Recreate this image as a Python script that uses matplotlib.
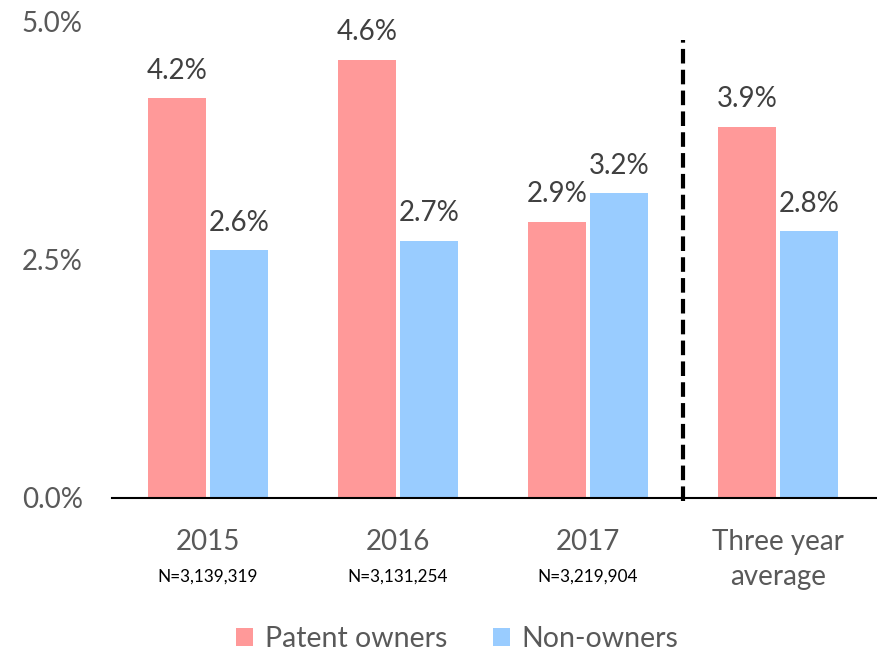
import numpy as np
import matplotlib.pyplot as plt

categories = ['2015', '2016', '2017', 'Three year\naverage']
n_labels = ['N=3,139,319', 'N=3,131,254', 'N=3,219,904', '']
patent_owners = [4.2, 4.6, 2.9, 3.9]
non_owners = [2.6, 2.7, 3.2, 2.8]

plt.rcParams['font.family'] = ['Lato', 'DejaVu Sans']

fig = plt.figure(figsize=(8.78, 6.55), dpi=100)
# axes in pixel terms: left 112, right 878, bottom 498, top 22
ax = fig.add_axes([112 / 878, 1 - 498 / 655, 766 / 878, 476 / 655])

x = np.arange(len(categories))
w = 58 / 190
gap = 4 / 190
off = w / 2 + gap / 2

b1 = ax.bar(x - off, patent_owners, w, color='#FF9999', label='Patent owners')
b2 = ax.bar(x + off, non_owners, w, color='#99CCFF', label='Non-owners')

for bars, vals in [(b1, patent_owners), (b2, non_owners)]:
    for b, v in zip(bars, vals):
        ax.annotate(f'{v:.1f}%', (b.get_x() + b.get_width() / 2, v),
                    xytext=(0, 10.5), textcoords='offset points',
                    ha='center', va='bottom', fontsize=20, color='#404040')

ax.set_xlim(-0.505, 3.526)
ax.set_ylim(0, 5.0)
ax.set_yticks([0, 2.5, 5.0])
ax.set_yticklabels(['0.0%', '2.5%', '5.0%'], fontsize=20, color='#595959')
ax.set_xticks(x)
ax.set_xticklabels(categories, fontsize=20, color='#595959', linespacing=1.45)
ax.tick_params(axis='both', length=0)
ax.tick_params(axis='x', pad=22)
ax.tick_params(axis='y', pad=21)

for s in ['top', 'right', 'left']:
    ax.spines[s].set_visible(False)
ax.spines['bottom'].set_linewidth(1.5)

# dashed divider before the average
ax.axvline(2.5, ymin=-0.006, ymax=(498 - 40) / 476, color='black',
           linestyle=(0, (3.5, 1.5)), linewidth=3, clip_on=False)

for xi, n in zip(x, n_labels):
    if n:
        ax.text(xi, -0.83, n, ha='center', va='center', fontsize=12.3, color='black')

fig.legend(handles=[b1, b2], loc='center', bbox_to_anchor=(457 / 878, 1 - 639 / 655),
           ncol=2, frameon=False, fontsize=20.5, labelcolor='#595959',
           handlelength=0.6, handleheight=0.6, handletextpad=0.4, columnspacing=1.6)

fig.savefig('out.png', dpi=100)
